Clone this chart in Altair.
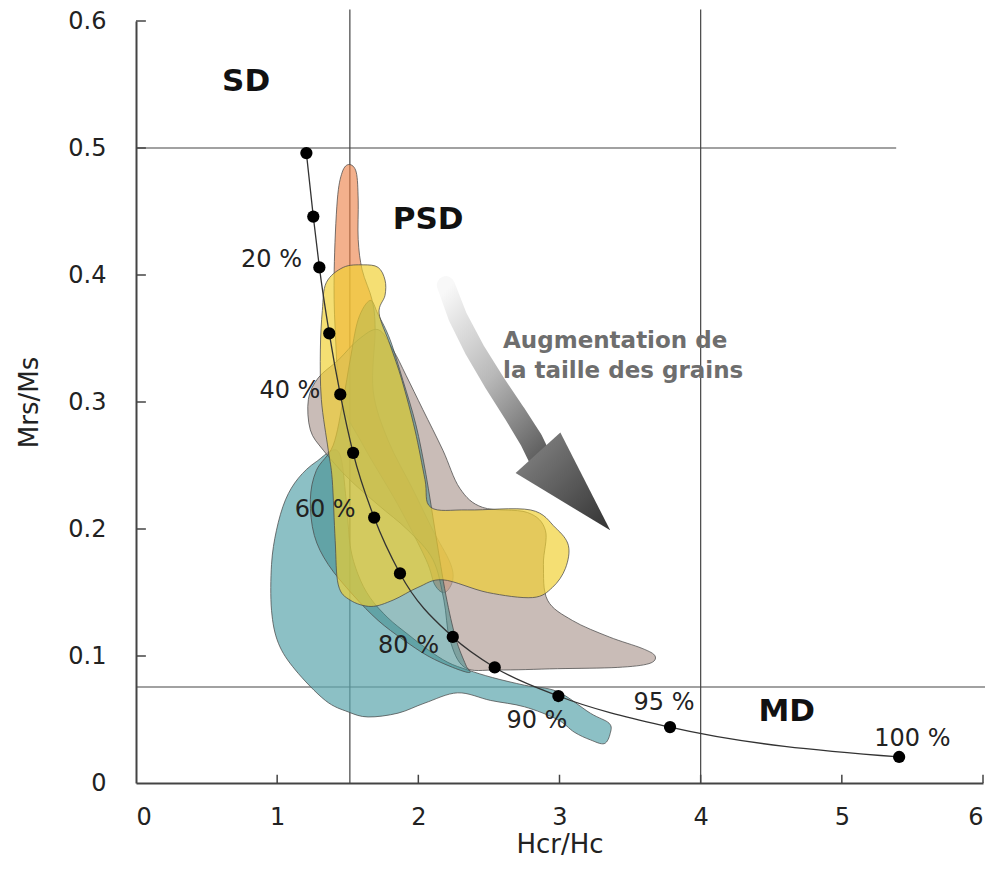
import altair as alt
import pandas as pd

# ---------------- data ----------------
x_ticks = [1, 2, 3, 4, 5, 6]
y_ticks = [0.1, 0.2, 0.3, 0.4, 0.5, 0.6]

# mixing curve (SD -> MD)
mix_x = [1.207, 1.256, 1.299, 1.369, 1.447, 1.538, 1.687, 1.870, 2.244, 2.541, 2.992, 3.783, 5.406]
mix_y = [0.496, 0.446, 0.406, 0.354, 0.306, 0.260, 0.209, 0.165, 0.115, 0.091, 0.0685, 0.044, 0.0205]

pct_labels = ["20 %", "40 %", "60 %", "80 %", "90 %", "95 %", "100 %"]
pct_x = [0.96, 1.09, 1.34, 1.93, 2.84, 3.74, 5.50]
pct_y = [0.412, 0.309, 0.215, 0.108, 0.049, 0.063, 0.035]

domain_labels = ["SD", "PSD", "MD"]
domain_x = [0.78, 2.07, 4.61]
domain_y = [0.552, 0.443, 0.056]

note_lines = ["Augmentation de", "la taille des grains"]
note_x = [2.6, 2.6]
note_y = [0.3425, 0.319]

# boundary lines of the Day plot
vline_x = [1.515, 4.0]
vline_top = [0.609, 0.609]
hline_y = [0.5, 0.0756]
hline_end = [5.385, 6.02]

# envelopes
teal_light_x = [1.433, 1.277, 1.150, 1.059, 0.995, 0.960, 0.960, 1.009, 1.129, 1.341, 1.503, 1.644, 1.856, 2.047,
                2.279, 2.512, 2.752, 2.985, 3.105, 3.218, 3.317, 3.359, 3.352, 3.218, 2.985, 2.752, 2.526, 2.350,
                2.209, 2.068, 1.927, 1.785, 1.658, 1.574, 1.517, 1.489]
teal_light_y = [0.261, 0.253, 0.240, 0.223, 0.199, 0.172, 0.136, 0.110, 0.089, 0.065, 0.056, 0.052, 0.055, 0.063,
                0.071, 0.065, 0.060, 0.050, 0.040, 0.034, 0.031, 0.039, 0.047, 0.055, 0.072, 0.077, 0.083, 0.089,
                0.095, 0.105, 0.117, 0.130, 0.146, 0.164, 0.187, 0.223]

gray_x = [1.715, 1.821, 1.913, 2.032, 2.174, 2.294, 2.456, 2.773, 2.900, 2.886, 2.915, 3.091, 3.352, 3.585, 3.677,
          3.634, 3.409, 2.985, 2.562, 2.329, 2.223, 2.181, 2.103, 1.927, 1.715, 1.503, 1.327, 1.235, 1.221, 1.291,
          1.433, 1.574]
gray_y = [0.357, 0.341, 0.321, 0.294, 0.262, 0.232, 0.217, 0.213, 0.199, 0.172, 0.144, 0.128, 0.115, 0.106, 0.100,
          0.094, 0.091, 0.090, 0.089, 0.091, 0.113, 0.144, 0.176, 0.199, 0.219, 0.240, 0.262, 0.278, 0.302, 0.319,
          0.333, 0.349]

teal_dark_x = [1.658, 1.715, 1.800, 1.891, 1.983, 2.054, 2.124, 2.195, 2.265, 2.336, 2.364, 2.244, 2.068, 1.891,
               1.715, 1.538, 1.362, 1.263, 1.235, 1.277, 1.397, 1.468, 1.517, 1.574]
teal_dark_y = [0.380, 0.369, 0.349, 0.317, 0.282, 0.243, 0.195, 0.148, 0.114, 0.093, 0.087, 0.091, 0.100, 0.113,
               0.128, 0.148, 0.172, 0.195, 0.223, 0.246, 0.266, 0.302, 0.333, 0.365]

yellow_x = [1.348, 1.468, 1.609, 1.715, 1.764, 1.764, 1.722, 1.800, 1.884, 1.976, 2.047, 2.089, 2.350, 2.795, 2.971,
            3.063, 3.042, 2.950, 2.809, 2.491, 2.174, 1.997, 1.821, 1.665, 1.517, 1.433, 1.411, 1.390, 1.362, 1.313,
            1.306, 1.320]
yellow_y = [0.394, 0.406, 0.408, 0.406, 0.396, 0.384, 0.370, 0.345, 0.317, 0.278, 0.239, 0.217, 0.215, 0.215, 0.201,
            0.187, 0.169, 0.154, 0.146, 0.150, 0.160, 0.154, 0.144, 0.139, 0.144, 0.156, 0.191, 0.239, 0.262, 0.302,
            0.341, 0.372]

salmon_x = [1.510, 1.560, 1.574, 1.574, 1.602, 1.673, 1.694, 1.680, 1.785, 1.962, 2.103, 2.223, 2.244, 2.188, 2.117,
            2.054, 1.856, 1.609, 1.454, 1.411, 1.404, 1.426, 1.461]
salmon_y = [0.487, 0.481, 0.459, 0.428, 0.404, 0.380, 0.357, 0.309, 0.270, 0.231, 0.199, 0.174, 0.160, 0.150, 0.156,
            0.176, 0.219, 0.266, 0.302, 0.357, 0.404, 0.459, 0.481]

# grain-size arrow
shaft_x = [2.195, 2.279, 2.399, 2.541, 2.682, 2.800, 2.870]
shaft_y = [0.392, 0.367, 0.341, 0.315, 0.291, 0.270, 0.254]
shaft_w = [18, 19, 20, 21, 22, 23, 23]
head_x = [2.689, 3.006, 3.359]
head_y = [0.244, 0.276, 0.199]

# ---------------- tables ----------------
mix_df = pd.DataFrame({"x": mix_x, "y": mix_y, "i": range(len(mix_x))})
pct_df = pd.DataFrame({"t": pct_labels, "x": pct_x, "y": pct_y})
dom_df = pd.DataFrame({"t": domain_labels, "x": domain_x, "y": domain_y})
note_df = pd.DataFrame({"t": note_lines, "x": note_x, "y": note_y})
vl_df = pd.DataFrame({"x": vline_x, "y": [0, 0], "y2": vline_top})
hl_df = pd.DataFrame({"y": hline_y, "x": [0, 0], "x2": hline_end})
xt_df = pd.DataFrame({"x": x_ticks})
yt_df = pd.DataFrame({"y": y_ticks})
shaft_df = pd.DataFrame({"x": shaft_x, "y": shaft_y, "w": shaft_w, "i": range(len(shaft_x))})
head_df = pd.DataFrame({"x": head_x, "y": head_y, "i": range(len(head_x))})

# drawing order: first is at the bottom
polys = [
    ("salmon", salmon_x, salmon_y, "#EC7F45", 0.62),
    ("teal_light", teal_light_x, teal_light_y, "#5FA8AE", 0.72),
    ("gray", gray_x, gray_y, "#B09C95", 0.68),
    ("teal_dark", teal_dark_x, teal_dark_y, "#3F8A8C", 0.55),
    ("yellow", yellow_x, yellow_y, "#F0D030", 0.68),
]
poly_df = pd.concat(
    [pd.DataFrame({"poly": n, "x": px, "y": py, "i": range(len(px))}) for n, px, py, _, _ in polys],
    ignore_index=True,
)

# ---------------- encodings ----------------
XS = alt.Scale(domain=[0, 6], nice=False, zero=False)
YS = alt.Scale(domain=[0, 0.6], nice=False, zero=False)
AX_X = alt.Axis(values=[0, 1, 2, 3, 4, 5, 6], title="Hcr/Hc", format="d", ticks=False, tickSize=0,
                labelPadding=22, titlePadding=2, grid=False)
AX_Y = alt.Axis(values=[0, 0.1, 0.2, 0.3, 0.4, 0.5, 0.6], title="Mrs/Ms", ticks=False, tickSize=0,
                labelExpr="datum.value == 0 ? '0' : format(datum.value, '.1f')",
                labelPadding=30, titlePadding=25, grid=False)


def X(f="x"):
    return alt.X(f"{f}:Q", scale=XS, axis=AX_X)


def Y(f="y"):
    return alt.Y(f"{f}:Q", scale=YS, axis=AX_Y)


layers = []

for name, _, _, col, op in polys:
    layers.append(
        alt.Chart(poly_df).transform_filter(alt.datum.poly == name)
        .mark_line(interpolate="cardinal-closed", fill=col, fillOpacity=op,
                   stroke="#4a4a4a", strokeWidth=1, strokeOpacity=0.75)
        .encode(x=X(), y=Y(), order=alt.Order("i:Q"))
    )

rules_v = alt.Chart(vl_df).mark_rule(color="#444", strokeWidth=1.2).encode(x=X(), y=Y(), y2="y2:Q")
rules_h = alt.Chart(hl_df).mark_rule(color="#444", strokeWidth=1.2).encode(y=Y(), x=X(), x2="x2:Q")

xt = alt.Chart(xt_df).mark_rule(color="#444", strokeWidth=1.5).encode(
    x=X(), y=alt.datum(0), y2=alt.datum(0.0065))
yt = alt.Chart(yt_df).mark_rule(color="#444", strokeWidth=1.5).encode(
    y=Y(), x=alt.datum(0), x2=alt.datum(0.07))

shaft = alt.Chart(shaft_df).mark_trail(
    color=alt.Gradient(gradient="linear",
                       stops=[alt.GradientStop(color="#f8f8f8", offset=0),
                              alt.GradientStop(color="#b8b8b8", offset=0.5),
                              alt.GradientStop(color="#5a5a5a", offset=1)],
                       x1=0.2, y1=0, x2=0.8, y2=1)
).encode(x=X(), y=Y(), size=alt.Size("w:Q", scale=None, legend=None), order=alt.Order("i:Q"))

head = alt.Chart(head_df).mark_line(
    interpolate="linear-closed", strokeWidth=0,
    fill=alt.Gradient(gradient="linear",
                      stops=[alt.GradientStop(color="#8a8a8a", offset=0),
                             alt.GradientStop(color="#333333", offset=1)],
                      x1=0, y1=0, x2=1, y2=1)
).encode(x=X(), y=Y(), order=alt.Order("i:Q"))

mix_line = alt.Chart(mix_df).mark_line(color="#333", strokeWidth=1.3, interpolate="monotone").encode(
    x=X(), y=Y(), order=alt.Order("i:Q"))
mix_pts = alt.Chart(mix_df).mark_circle(color="black", size=150, opacity=1).encode(x=X(), y=Y())

pct_txt = alt.Chart(pct_df).mark_text(font="DejaVu Sans", fontSize=24, color="#222",
                                      align="center", baseline="middle").encode(x=X(), y=Y(), text="t:N")
dom_txt = alt.Chart(dom_df).mark_text(font="DejaVu Sans", fontSize=31, fontWeight="bold", color="#111",
                                      align="center", baseline="middle").encode(x=X(), y=Y(), text="t:N")
note_txt = alt.Chart(note_df).mark_text(font="DejaVu Sans", fontSize=23, fontWeight="bold", color="#6e6e6e",
                                        align="left", baseline="alphabetic").encode(x=X(), y=Y(), text="t:N")

chart = alt.layer(
    rules_v, rules_h, *layers, shaft, head, mix_line, mix_pts, xt, yt, pct_txt, dom_txt, note_txt
).properties(
    width=847, height=762,
    autosize=alt.AutoSizeParams(type="none"),
    padding={"left": 128, "top": 13, "right": 2, "bottom": 76},
).configure_axis(
    labelFont="DejaVu Sans", labelFontSize=24, labelColor="#222",
    titleFont="DejaVu Sans", titleFontSize=26, titleFontWeight="normal", titleColor="#222",
    domainColor="#444", domainWidth=2,
).configure_view(stroke=None)

chart.save("out.html", embed_options={"renderer": "svg", "actions": False})
